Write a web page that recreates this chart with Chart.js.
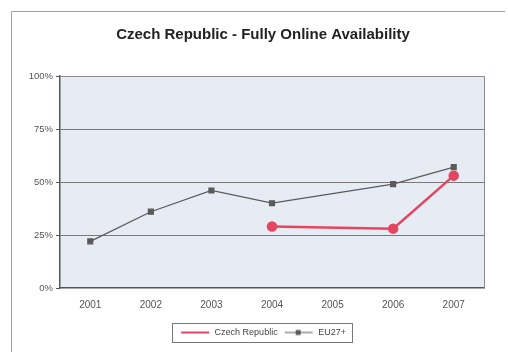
<!DOCTYPE html>
<html>
<head>
<meta charset="utf-8">
<script src="https://cdn.jsdelivr.net/npm/chart.js@4/dist/chart.umd.min.js"></script>
<style>
  html, body { margin: 0; padding: 0; background: #fff; overflow: hidden; }
  canvas { display: block; }
</style>
</head>
<body>
<canvas id="chart" width="508" height="352"></canvas>
<script>
const years = ['2001', '2002', '2003', '2004', '2005', '2006', '2007'];
const czechRepublic = [null, null, null, 29, null, 28, 53];
const eu27 = [22, 36, 46, 40, null, 49, 57];
const yTicks = [0, 25, 50, 75, 100];

const RED = '#e64560';
const GREY = '#5a5a5a';

// small legend swatches: a plain line, and a line with a square on it
const swatch = (color, width, square) => {
    let c = document.createElement('canvas');
    c.width = 30;
    c.height = 8;
    let ctx = c.getContext('2d');
    ctx.strokeStyle = color;
    ctx.lineWidth = width;
    ctx.beginPath();
    ctx.moveTo(1, 4);
    ctx.lineTo(29, 4);
    ctx.stroke();
    if (square) {
        ctx.fillStyle = color;
        ctx.fillRect(12, 1.5, 5, 5);
    }
    return c;
}

const frame = {
    id: 'frame',
    afterLayout(chart) {
        // centre title and legend over the framed area rather than the full canvas
        chart.titleBlock.left += 42;
        chart.legend.left += 42;
    },
    beforeDraw(chart) {
        const { ctx, chartArea: a } = chart;
        ctx.save();
        // outer border
        ctx.strokeStyle = '#a0a0a0';
        ctx.lineWidth = 1;
        ctx.beginPath();
        ctx.moveTo(11.5, 352);
        ctx.lineTo(11.5, 11.5);
        ctx.lineTo(505, 11.5);
        ctx.stroke();
        // plot background
        ctx.fillStyle = '#e7ebf4';
        ctx.fillRect(a.left, a.top, a.right - a.left, a.bottom - a.top);
        ctx.restore();
    },
    afterDraw(chart) {
        const { ctx, chartArea: a, legend } = chart;
        ctx.save();
        ctx.strokeStyle = '#8a8a8a';
        ctx.lineWidth = 1;
        ctx.beginPath();
        ctx.moveTo(a.left, Math.round(a.top) + 0.5);
        ctx.lineTo(Math.round(a.right) + 0.5, Math.round(a.top) + 0.5);
        ctx.lineTo(Math.round(a.right) + 0.5, a.bottom);
        ctx.stroke();
        // legend box
        const boxes = legend.legendHitBoxes;
        if (boxes && boxes.length) {
            let l = Math.min(...boxes.map(b => b.left)) - 8;
            let r = Math.max(...boxes.map(b => b.left + b.width)) + 6;
            let t = Math.min(...boxes.map(b => b.top)) - 5;
            let btm = Math.max(...boxes.map(b => b.top + b.height)) + 5;
            ctx.strokeStyle = '#777';
            ctx.strokeRect(Math.round(l) + 0.5, Math.round(t) + 0.5, Math.round(r - l), Math.round(btm - t));
        }
        ctx.restore();
    }
}

new Chart(document.getElementById('chart'), {
    type: 'line',
    data: {
        labels: years,
        datasets: [
            {
                label: 'Czech Republic',
                data: czechRepublic,
                borderColor: RED,
                backgroundColor: RED,
                borderWidth: 2.5,
                pointStyle: 'circle',
                pointRadius: 4,
                spanGaps: true,
                order: 1
            },
            {
                label: 'EU27+',
                data: eu27,
                borderColor: GREY,
                backgroundColor: GREY,
                borderWidth: 1.2,
                pointStyle: 'rect',
                pointRadius: 3.5,
                spanGaps: true,
                order: 2
            }
        ]
    },
    options: {
        responsive: false,
        animation: false,
        devicePixelRatio: 1,
        layout: { padding: { left: 0, right: 24, top: 0, bottom: 5 } },
        plugins: {
            title: {
                display: true,
                text: 'Czech Republic - Fully Online Availability',
                color: '#222',
                font: { family: 'Liberation Sans', size: 15, weight: 'bold' },
                padding: { top: 26, bottom: 32 }
            },
            legend: {
                position: 'bottom',
                labels: {
                    color: '#444',
                    font: { family: 'Liberation Sans', size: 9 },
                    usePointStyle: true,
                    pointStyleWidth: 30,
                    padding: 6,
                    generateLabels: (chart) => [
                        { text: 'Czech Republic', pointStyle: swatch(RED, 2, false), datasetIndex: 0, fontColor: '#444', lineWidth: 0 },
                        { text: 'EU27+', pointStyle: swatch(GREY, 1, true), datasetIndex: 1, fontColor: '#444', lineWidth: 0 }
                    ]
                }
            },
            tooltip: { enabled: false }
        },
        scales: {
            x: {
                offset: true,
                grid: { display: false, drawTicks: false },
                border: { display: true, color: '#555', width: 1.5 },
                ticks: {
                    color: '#555',
                    padding: 11,
                    font: { family: 'Liberation Sans', size: 10 }
                },
                afterFit: (scale) => { scale.height = 34; }
            },
            y: {
                min: 0,
                max: 100,
                afterBuildTicks: (scale) => { scale.ticks = yTicks.map(v => ({ value: v })); },
                grid: {
                    color: (c) => (c.tick && c.tick.value > 0 && c.tick.value < 100) ? '#7a7a7a' : 'rgba(0,0,0,0)',
                    lineWidth: 1,
                    drawTicks: true,
                    tickLength: 4,
                    tickColor: '#555'
                },
                border: { display: true, color: '#555', width: 1.5 },
                ticks: {
                    color: '#555',
                    padding: 3,
                    font: { family: 'Liberation Sans', size: 9.5 },
                    callback: (v) => v + '%'
                },
                afterFit: (scale) => { scale.width = 60; }
            }
        }
    },
    plugins: [frame]
});
</script>
</body>
</html>
